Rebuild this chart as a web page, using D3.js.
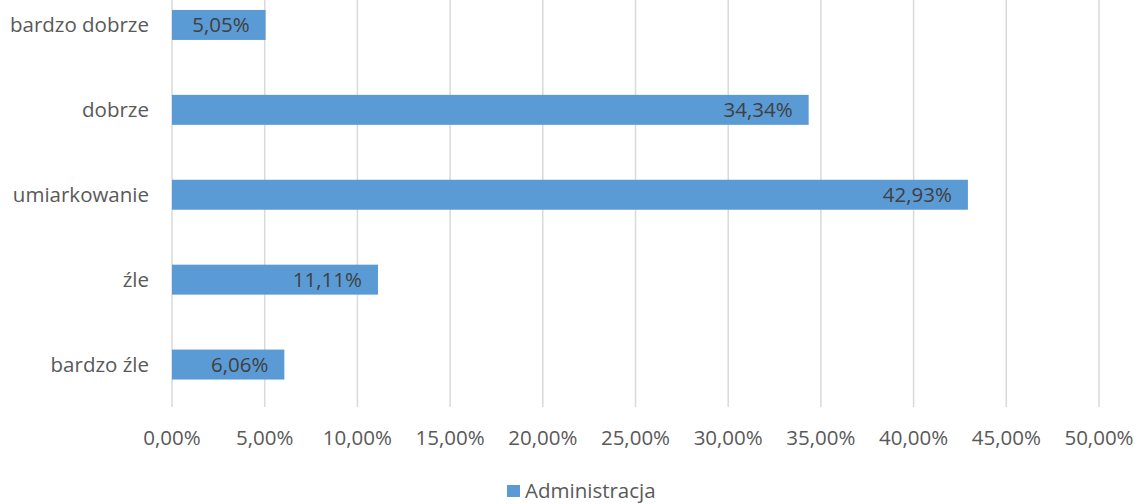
<!DOCTYPE html>
<html>
<head>
<meta charset="utf-8">
<script src="https://cdn.jsdelivr.net/npm/d3@7"></script>
<style>
  body { margin: 0; background: #fff; }
  text { font-family: "Open Sans", "Liberation Sans", sans-serif; }
</style>
</head>
<body>
<div id="chart"></div>
<script>
// Data
const categories = ["bardzo dobrze", "dobrze", "umiarkowanie", "źle", "bardzo źle"];
const values = [5.05, 34.34, 42.93, 11.11, 6.06];
const seriesName = "Administracja";
const xTicks = [0, 5, 10, 15, 20, 25, 30, 35, 40, 45, 50];

const width = 1141;
const height = 504;
const barColor = "#5B9BD5";
const fontSize = "20.5px";

const fmt = v => v.toFixed(2).replace(".", ",") + "%";

const svg = d3.select("#chart")
    .append("svg")
    .attr("width", width)
    .attr("height", height);

// Scales
const x = d3.scaleLinear()
    .domain([0, 50])
    .range([172, 1099]);

const y = d3.scaleBand()
    .domain(categories)
    .range([-17.5, 407])
    .paddingInner(0.647)
    .paddingOuter(0.3235);

// Gridlines
svg.append("g")
    .selectAll("line")
    .data(xTicks)
    .join("line")
    .attr("x1", d => x(d))
    .attr("x2", d => x(d))
    .attr("y1", 0)
    .attr("y2", 407)
    .attr("stroke", "#d9d9d9")
    .attr("stroke-width", 1.5);

// X axis labels
svg.append("g")
    .selectAll("text")
    .data(xTicks)
    .join("text")
    .attr("x", d => x(d))
    .attr("y", 438)
    .attr("dy", "0.35em")
    .attr("text-anchor", "middle")
    .attr("font-size", fontSize)
    .attr("fill", "#595959")
    .text(d => fmt(d));

// Category labels
svg.append("g")
    .selectAll("text")
    .data(categories)
    .join("text")
    .attr("x", 149)
    .attr("y", d => y(d) + y.bandwidth() / 2)
    .attr("dy", "0.35em")
    .attr("text-anchor", "end")
    .attr("font-size", fontSize)
    .attr("fill", "#595959")
    .text(d => d);

// Bars
svg.append("g")
    .selectAll("rect")
    .data(values)
    .join("rect")
    .attr("x", x(0))
    .attr("y", (d, i) => y(categories[i]))
    .attr("width", d => x(d) - x(0))
    .attr("height", y.bandwidth())
    .attr("fill", barColor);

// Value labels (inside end)
svg.append("g")
    .selectAll("text")
    .data(values)
    .join("text")
    .attr("x", d => x(d) - 16)
    .attr("y", (d, i) => y(categories[i]) + y.bandwidth() / 2)
    .attr("dy", "0.35em")
    .attr("text-anchor", "end")
    .attr("font-size", fontSize)
    .attr("fill", "#404040")
    .text(d => fmt(d));

// Legend
const legend = svg.append("g");
legend.append("rect")
    .attr("x", 507)
    .attr("y", 485)
    .attr("width", 13)
    .attr("height", 12)
    .attr("fill", barColor);
legend.append("text")
    .attr("x", 525)
    .attr("y", 491)
    .attr("dy", "0.35em")
    .attr("font-size", fontSize)
    .attr("fill", "#595959")
    .text(seriesName);
</script>
</body>
</html>
